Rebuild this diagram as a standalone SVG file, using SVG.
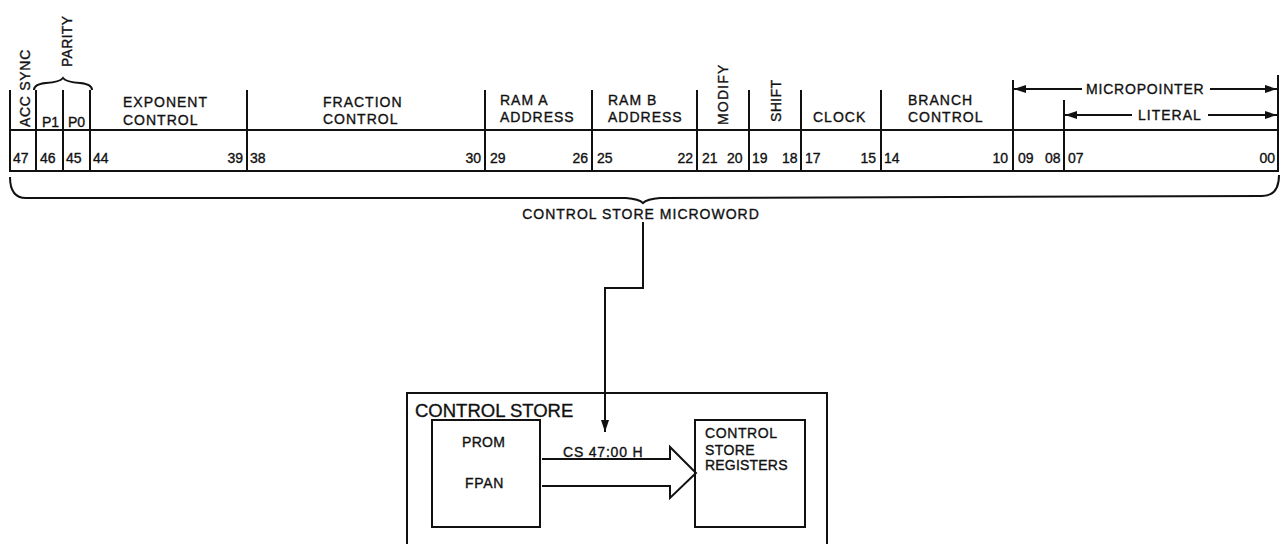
<svg xmlns="http://www.w3.org/2000/svg" width="1282" height="544" viewBox="0 0 1282 544">
<style>
text{font-family:"Liberation Sans",Arial,sans-serif;font-size:14px;fill:#111;stroke:#111;stroke-width:0.35px}
.h{letter-spacing:1px}
.ln{stroke:#111;stroke-width:2;fill:none}
.bx{stroke:#111;stroke-width:2;fill:#fff}
</style>
<defs>
<marker id="ah" viewBox="0 0 12 8" refX="12" refY="4" markerWidth="12" markerHeight="8" markerUnits="userSpaceOnUse" orient="auto">
<path d="M0,0 L12,4 L0,8 Z" fill="#111"/>
</marker>
</defs>
<rect width="1282" height="544" fill="#fff"/>

<g id="microword">
<rect class="ln" x="10" y="130" width="1268" height="41"/>
<path class="ln" d="M10,90V171 M36,90V171 M63,90V171 M90,90V171 M247,90V171 M485,90V171 M592,90V171 M697,90V171 M749,90V171 M801,90V171 M881,90V171 M1013,80V171 M1064,100V171 M1278,75V171"/>
<path class="ln" d="M34,90 Q34,84 46,83 Q60,82 63,78 Q66,82 80,83 Q92,84 92,90"/>
<text transform="translate(30,127) rotate(-90)" style="letter-spacing:0.7px">ACC SYNC</text>
<text transform="translate(72,67) rotate(-90)" style="letter-spacing:0.3px">PARITY</text>
<text x="42" y="127">P1</text>
<text x="68" y="127">P0</text>
<text class="h" x="123" y="107">EXPONENT</text>
<text class="h" x="123" y="125">CONTROL</text>
<text class="h" x="323" y="107">FRACTION</text>
<text class="h" x="323" y="124">CONTROL</text>
<text class="h" x="500" y="105">RAM A</text>
<text class="h" x="500" y="122">ADDRESS</text>
<text class="h" x="608" y="105">RAM B</text>
<text class="h" x="608" y="122">ADDRESS</text>
<text transform="translate(728,125) rotate(-90)" style="letter-spacing:1.2px">MODIFY</text>
<text transform="translate(781,122) rotate(-90)" style="letter-spacing:0.4px">SHIFT</text>
<text class="h" x="813" y="122">CLOCK</text>
<text class="h" x="908" y="105">BRANCH</text>
<text class="h" x="908" y="122">CONTROL</text>
<path class="ln" d="M1082,89 H1014" marker-end="url(#ah)"/>
<path class="ln" d="M1210,89 H1277" marker-end="url(#ah)"/>
<text x="1086" y="94" style="letter-spacing:0.8px">MICROPOINTER</text>
<path class="ln" d="M1132,115 H1065" marker-end="url(#ah)"/>
<path class="ln" d="M1208,115 H1277" marker-end="url(#ah)"/>
<text class="h" x="1138" y="120">LITERAL</text>
<text x="13" y="163">47</text>
<text x="40" y="163">46</text>
<text x="66" y="163">45</text>
<text x="93" y="163">44</text>
<text x="243" y="163" text-anchor="end">39</text>
<text x="250" y="163">38</text>
<text x="481" y="163" text-anchor="end">30</text>
<text x="490" y="163">29</text>
<text x="588" y="163" text-anchor="end">26</text>
<text x="597" y="163">25</text>
<text x="693" y="163" text-anchor="end">22</text>
<text x="702" y="163">21</text>
<text x="727" y="163">20</text>
<text x="752" y="163">19</text>
<text x="782" y="163">18</text>
<text x="805" y="163">17</text>
<text x="876" y="163" text-anchor="end">15</text>
<text x="884" y="163">14</text>
<text x="1008" y="163" text-anchor="end">10</text>
<text x="1018" y="163">09</text>
<text x="1045" y="163">08</text>
<text x="1068" y="163">07</text>
<text x="1275" y="163" text-anchor="end">00</text>
<path class="ln" d="M10,177 Q10,198 26,198 L626,198 Q639,199 643,203 Q647,199 660,198 L1262,196 Q1279,196 1279,175"/>
<text class="h" x="641" y="219" text-anchor="middle">CONTROL STORE MICROWORD</text>
</g>

<g id="control-store">
<rect class="bx" x="407" y="393" width="420" height="170"/>
<text x="415" y="417" style="font-size:18.5px">CONTROL STORE</text>
</g>

<g id="prom-fpan">
<rect class="bx" x="432" y="420" width="108" height="107"/>
<text x="462" y="447" style="letter-spacing:0.3px">PROM</text>
<text x="465" y="488" style="letter-spacing:0.7px">FPAN</text>
</g>

<g id="cs-registers">
<rect class="bx" x="695" y="420" width="110" height="107"/>
<text x="705" y="438" style="letter-spacing:0.6px">CONTROL</text>
<text x="705" y="455" style="letter-spacing:0.4px">STORE</text>
<text x="705" y="470" style="letter-spacing:0.2px">REGISTERS</text>
</g>

<g id="connectors">
<path class="ln" d="M643,222 V288 H605 V432" marker-end="url(#ah)"/>
<path class="ln" d="M542,459 H670 V447 L696,473 L670,498 V486 H542"/>
<text x="563" y="457" style="letter-spacing:0.8px">CS 47:00 H</text>
</g>
</svg>
